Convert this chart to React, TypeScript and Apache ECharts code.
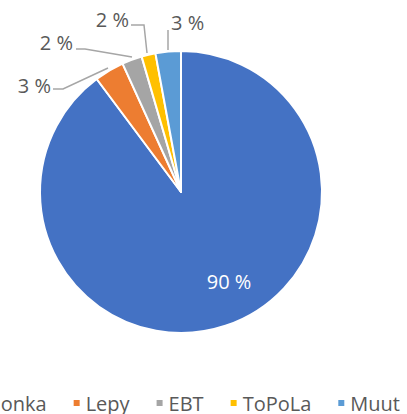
import React, { useEffect, useRef } from "react";
import * as echarts from "echarts";

const categories = ["Honka", "Lepy", "EBT", "ToPoLa", "Muut"];
const shares = [89.8, 3.4, 2.3, 1.6, 2.9];
const colors = ["#4472C4", "#ED7D31", "#A5A5A5", "#FFC000", "#5B9BD5"];

// label layout (text anchor + leader line points), per slice
const labelPos: { x: number; y: number; align: string; line?: number[][] }[] = [
  { x: 229, y: 281, align: "center" },
  { x: 51, y: 85, align: "right", line: [[108, 68], [63, 89], [53, 89]] },
  { x: 73, y: 42, align: "right", line: [[132, 57], [85, 49], [76, 49]] },
  { x: 129, y: 19, align: "right", line: [[147, 53], [144, 25], [131, 25]] },
  { x: 171, y: 22, align: "left", line: [[168, 50], [168, 40], [168, 30]] },
];

const FONT = "'Open Sans', sans-serif";

export default function App() {
  const ref = useRef<HTMLDivElement>(null);
  useEffect(() => {
    if (!ref.current) return;
    const chart = echarts.init(ref.current, undefined, { renderer: "svg" });
    chart.setOption({
      animation: false,
      backgroundColor: "#ffffff",
      legend: {
        data: categories,
        orient: "horizontal",
        left: -28,
        top: 393,
        width: 600,
        padding: 0,
        icon: "rect",
        itemWidth: 8,
        itemHeight: 8,
        itemGap: 25,
        textStyle: { color: "#595959", fontSize: 20, fontFamily: FONT, lineHeight: 20 },
      },
      series: [
        {
          type: "pie",
          center: [181, 192],
          radius: 141,
          startAngle: 90,
          clockwise: true,
          avoidLabelOverlap: false,
          itemStyle: { borderColor: "#ffffff", borderWidth: 2 },
          label: {
            show: true,
            position: "outside",
            formatter: (p: any) => `${Math.round(p.value)} %`,
            color: "#595959",
            fontSize: 20,
            fontFamily: FONT,
          },
          labelLine: {
            show: true,
            lineStyle: { color: "#A6A6A6", width: 1.5 },
          },
          labelLayout: (params: any) => {
            const lp = labelPos[params.dataIndex];
            const out: any = {
              x: lp.x,
              y: lp.y,
              align: lp.align,
              verticalAlign: "middle",
            };
            if (lp.line) out.labelLinePoints = lp.line;
            return out;
          },
          data: categories.map((name, i) => ({
            name,
            value: shares[i],
            itemStyle: { color: colors[i] },
            ...(i === 0
              ? { label: { position: "inside", color: "#ffffff" }, labelLine: { show: false } }
              : {}),
          })),
        },
      ],
    });
    return () => chart.dispose();
  }, []);
  return (
    <div
      ref={ref}
      style={{ position: "absolute", left: 0, top: 0, width: 407, height: 414 }}
    />
  );
}
